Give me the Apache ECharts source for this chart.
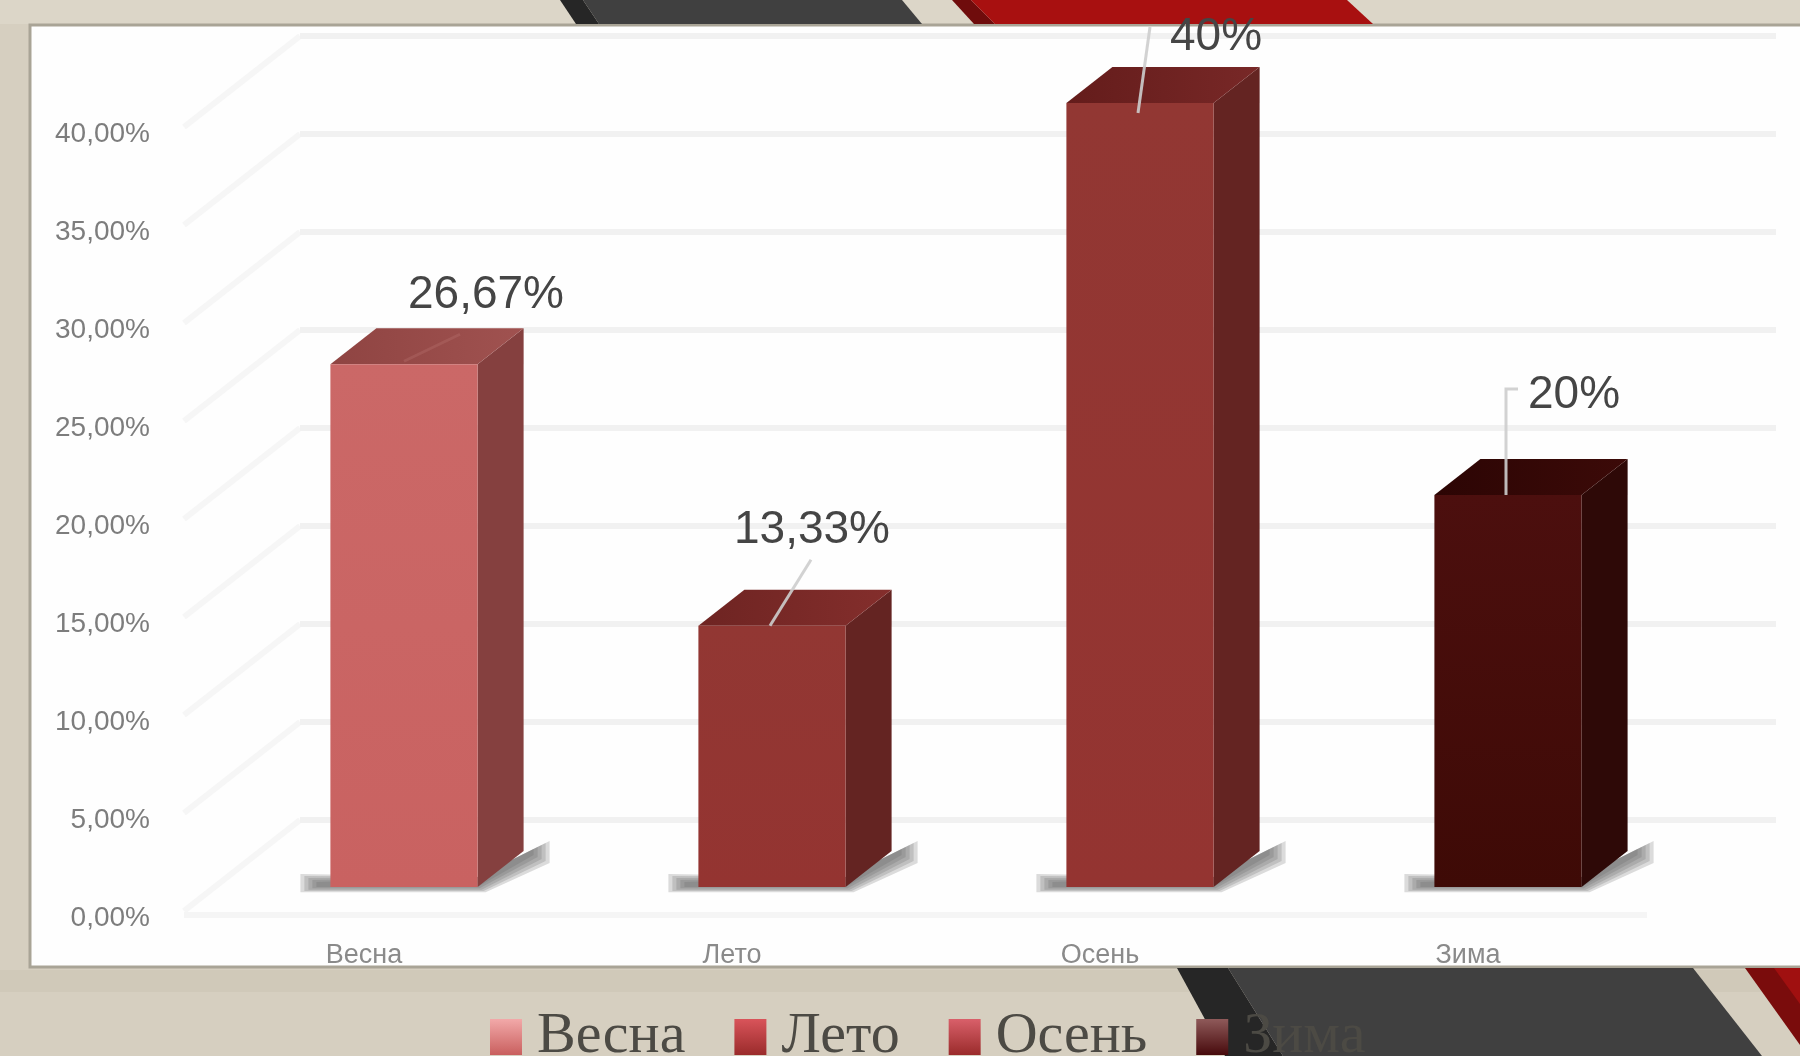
<!DOCTYPE html>
<html>
<head>
<meta charset="utf-8">
<style>
  html, body { margin: 0; padding: 0; background: #d6cfc0; }
  #chart { width: 1800px; height: 1056px; }
</style>
</head>
<body>
<div id="chart"></div>
<script src="https://cdn.jsdelivr.net/npm/echarts@6/dist/echarts.min.js"></script>
<script>
// данные диаграммы
const categories = ['Весна', 'Лето', 'Осень', 'Зима']
const seasonValues = [26.67, 13.33, 40, 20]
const valueLabels = ['26,67%', '13,33%', '40%', '20%']
const yTicks = [0, 5, 10, 15, 20, 25, 30, 35, 40]
const yTickLabels = ['0,00%', '5,00%', '10,00%', '15,00%', '20,00%', '25,00%', '30,00%', '35,00%', '40,00%']

// цвета столбиков: перед, бок, верх, легенда
const barColors = [
  { front: ['#cb6867', '#c96261'], side: '#85403f', top: ['#8f4442', '#a05250'], legend: ['#f2a9a9', '#c95f5e'] },
  { front: ['#923733', '#943431'], side: '#642422', top: ['#6e2422', '#842e2c'], legend: ['#d9545a', '#9a2b2b'] },
  { front: ['#923733', '#943431'], side: '#642422', top: ['#641c1b', '#782827'], legend: ['#d9606a', '#9a2b2b'] },
  { front: ['#4c0f0e', '#3e0a06'], side: '#2e0907', top: ['#2c0504', '#3c0a08'], legend: ['#8f5a5a', '#470a0c'] }
]
// сдвиг подписи и выноска относительно середины верхнего края
const labelOffsets = [[82, -69], [40, -95], [76, -66], [66, -100]]
const leaderLines = [
  [[0, -3], [56, -30]],
  [[-2, 0], [39, -66]],
  [[-2, 10], [10, -76]],
  [[-2, 0], [-2, -106], [10, -106]]
]
const leaderColors = ['rgba(190,120,115,0.3)', 'rgba(205,205,205,0.9)', 'rgba(205,205,205,0.9)', 'rgba(205,205,205,0.9)']
// мягкая тень слоями
const shadowSpreads = [16, 12, 8, 4, 0]

// параметры псевдо-3D
const faceShiftX = 40
const faceShiftY = -29
const depthX = 46
const depthY = 36
const wallDepthX = 120
const wallDepthY = 91

const vGrad = (c) => new echarts.graphic.LinearGradient(0, 0, 0, 1, [
  { offset: 0, color: c[0] }, { offset: 1, color: c[1] }
])
const hGrad = (c) => new echarts.graphic.LinearGradient(0, 0, 1, 0, [
  { offset: 0, color: c[0] }, { offset: 1, color: c[1] }
])
const poly = (points, style, z2) => ({ type: 'polygon', shape: { points }, style, z2: z2 || 0, silent: true })

// задняя стенка и пол
const renderWall = (params, api) => {
  const v = api.value(1)
  const cs = params.coordSys
  const y = api.coord([0, v])[1]
  const left = cs.x + 4
  const lineStyle = { stroke: '#f1f1f1', lineWidth: 6, fill: null }
  const children = [
    { type: 'line', shape: { x1: left, y1: y - 5, x2: left + wallDepthX - 4, y2: y - 5 - wallDepthY }, style: { stroke: '#f6f6f6', lineWidth: 6 } },
    { type: 'line', shape: { x1: left + wallDepthX - 4, y1: y - 5 - wallDepthY, x2: cs.x + cs.width + 124, y2: y - 5 - wallDepthY }, style: lineStyle }
  ]
  if (v === 0) {
    children.push({ type: 'line', shape: { x1: left, y1: y - 1, x2: cs.x + cs.width - 5, y2: y - 1 }, style: { stroke: '#f5f5f5', lineWidth: 6 } })
  }
  return { type: 'group', children }
}

// столбик: тень, перед, бок, верх, выноска, подпись
const renderBar = (i) => (params, api) => {
  const colors = barColors[i]
  const top = api.coord([api.value(0), api.value(1)])
  const zero = api.coord([api.value(0), 0])
  const w = api.size([1, 0])[0] * 0.4
  const cx = top[0] + faceShiftX
  const x0 = cx - w / 2
  const x1 = cx + w / 2
  const yTop = top[1] + faceShiftY
  const yBase = zero[1] + faceShiftY
  const shadows = shadowSpreads.map((s) => poly([
    [x0 - 14 - s, yBase - 5 - s / 2], [x0 - 14 - s, yBase + s / 3], [x1 + s / 2, yBase + s / 3],
    [x1 + depthX + 10 + s, yBase - depthY + 4 + s / 2], [x1 + depthX + 10 + s, yBase - depthY - 2 - s / 2], [x1, yBase - 10]
  ], { fill: 'rgba(95,95,95,0.22)' }, 0))
  const children = [
    ...shadows,
    poly([[x1, yTop], [x1 + depthX, yTop - depthY], [x1 + depthX, yBase - depthY], [x1, yBase]], { fill: colors.side }, 1),
    poly([[x0, yTop], [x0 + depthX, yTop - depthY], [x1 + depthX, yTop - depthY], [x1, yTop]], { fill: hGrad(colors.top) }, 1),
    { type: 'rect', shape: { x: x0, y: yTop, width: w, height: yBase - yTop }, style: { fill: vGrad(colors.front) }, z2: 2 },
    {
      type: 'polyline',
      shape: { points: leaderLines[i].map((p) => [cx + p[0], yTop + p[1]]) },
      style: { stroke: leaderColors[i], lineWidth: 3, fill: null },
      z2: 3
    },
    {
      type: 'text',
      z2: 4,
      style: {
        text: valueLabels[i],
        x: cx + labelOffsets[i][0],
        y: yTop + labelOffsets[i][1],
        align: 'center',
        verticalAlign: 'middle',
        font: '46px "Liberation Sans"',
        fill: '#454545'
      }
    }
  ]
  return { type: 'group', children }
}

const chart = echarts.init(document.getElementById('chart'))
chart.setOption({
  animation: false,
  backgroundColor: '#d6cfc0',
  textStyle: { fontFamily: 'Liberation Sans' },
  grid: { left: 180, top: 132, width: 1472, height: 784, containLabel: false },
  legend: {
    left: 490,
    top: 1008,
    padding: 0,
    icon: 'rect',
    itemWidth: 32,
    itemHeight: 36,
    itemGap: 49,
    data: categories.map((name, i) => ({ name, itemStyle: { color: vGrad(barColors[i].legend) } })),
    textStyle: { fontFamily: 'Liberation Serif', fontSize: 58, color: '#4c4a44', padding: [0, 0, 0, 10] },
    selectedMode: false
  },
  xAxis: {
    type: 'category',
    data: categories,
    axisLine: { show: false },
    axisTick: { show: false },
    axisLabel: { color: '#8a8a8a', fontSize: 27, margin: 26 }
  },
  yAxis: {
    type: 'value',
    min: 0,
    max: 40,
    interval: 5,
    splitLine: { show: false },
    axisLine: { show: false },
    axisTick: { show: false },
    axisLabel: {
      color: '#7d7d7d',
      fontSize: 28,
      margin: 30,
      verticalAlign: 'top',
      lineHeight: 5,
      formatter: (v) => yTickLabels[yTicks.indexOf(v)]
    }
  },
  series: [
    {
      type: 'custom',
      name: 'wall',
      z: 1,
      silent: true,
      renderItem: renderWall,
      data: yTicks.map((v) => [0, v])
    },
    ...categories.map((name, i) => ({
      type: 'custom',
      name,
      z: 2 + i,
      silent: true,
      renderItem: renderBar(i),
      itemStyle: { color: barColors[i].front[0] },
      data: [[i, seasonValues[i]]]
    }))
  ],
  // оформление слайда
  graphic: [
    { type: 'rect', z: 0, silent: true, shape: { x: 0, y: 0, width: 1800, height: 24 }, style: { fill: '#dcd6c8' } },
    { type: 'rect', z: 0, silent: true, shape: { x: 0, y: 970, width: 1800, height: 22 }, style: { fill: '#d0c9b9' } },
    { type: 'rect', z: 0, silent: true, shape: { x: 30, y: 25, width: 1800, height: 942 }, style: { fill: '#fefefe', stroke: '#a9a496', lineWidth: 3 } },
    { type: 'polygon', z: 0, silent: true, shape: { points: [[560, 0], [583, 0], [599, 24], [576, 24]] }, style: { fill: '#262626' } },
    { type: 'polygon', z: 0, silent: true, shape: { points: [[583, 0], [902, 0], [922, 24], [599, 24]] }, style: { fill: '#404040' } },
    { type: 'polygon', z: 0, silent: true, shape: { points: [[952, 0], [971, 0], [995, 24], [974, 24]] }, style: { fill: '#6f0c0c' } },
    { type: 'polygon', z: 0, silent: true, shape: { points: [[971, 0], [1347, 0], [1373, 24], [995, 24]] }, style: { fill: '#a81010' } },
    { type: 'polygon', z: 0, silent: true, shape: { points: [[1177, 968], [1228, 968], [1283, 1056], [1225, 1056]] }, style: { fill: '#262626' } },
    { type: 'polygon', z: 0, silent: true, shape: { points: [[1228, 968], [1693, 968], [1762, 1056], [1283, 1056]] }, style: { fill: '#404040' } },
    { type: 'polygon', z: 0, silent: true, shape: { points: [[1745, 968], [1800, 968], [1800, 1045]] }, style: { fill: '#7a0c0c' } },
    { type: 'polygon', z: 0, silent: true, shape: { points: [[1774, 968], [1800, 968], [1800, 1004]] }, style: { fill: '#a01010' } }
  ]
})
</script>
</body>
</html>
